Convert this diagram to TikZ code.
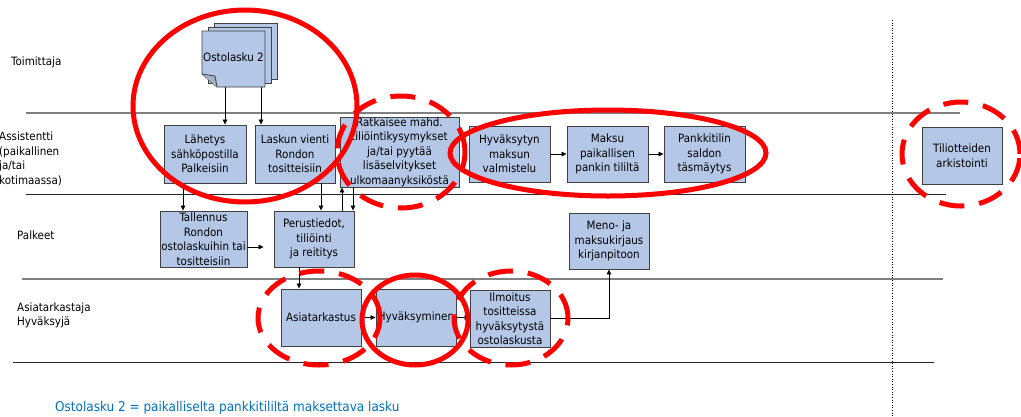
\documentclass[tikz,border=0pt]{standalone}
\usepackage{fontspec}
\setmainfont{DejaVu Sans Condensed}
\usetikzlibrary{arrows.meta,calc}
\definecolor{boxfill}{RGB}{180,199,231}
\definecolor{boxline}{RGB}{64,64,64}
\definecolor{noteblue}{RGB}{0,112,192}
\definecolor{ringred}{RGB}{255,0,0}
\begin{document}
\begin{tikzpicture}[x=1pt,y=-1pt,
  box/.style={draw=boxline, fill=boxfill, line width=0.9pt, inner sep=0pt, align=center,
    font=\fontsize{11.5}{14.5}\selectfont},
  arr/.style={-{Triangle[length=5pt,width=4.5pt]}, line width=0.7pt},
  lanelight/.style={line width=1.2pt, draw=gray},
  lanedark/.style={line width=1pt, draw=black!85},
  lbl/.style={anchor=west, align=left, font=\fontsize{11.5}{14.6}\selectfont, inner sep=0pt},
  ring/.style={draw=ringred, line width=5pt},
  dring/.style={ring, dash pattern=on 25pt off 15pt}]
\useasboundingbox (0,0) rectangle (1021,416);

% lane separators
\draw[lanelight] (26,113) -- (960,113);
\draw[lanedark] (26,194) -- (946,194);
\draw[lanelight] (22,279) -- (943,279);
\draw[lanedark] (13,362) -- (934,362);
\draw[dotted, line width=0.6pt] (892,20) -- (892,416);

% lane labels
\node[lbl] (l1) at (11,62) {Toimittaja};
\node[lbl] (l2) at (-1,159) {Assistentti\\(paikallinen\\ja/tai\\kotimaassa)};
\node[lbl] (l3) at (17,235) {Palkeet};
\node[lbl] (l4) at (17,315.5) {Asiatarkastaja\\Hyväksyjä};

% document stack
\foreach \dx/\dy in {12/-8, 6/-4}
  \draw[fill=boxfill, draw=boxline, line width=0.8pt] (202+\dx,31+\dy) rectangle (265+\dx,87+\dy);
\draw[fill=boxfill, draw=boxline, line width=0.8pt] (202,31) -- (265,31) -- (265,87) -- (217,87) -- (202,74) -- cycle;
\draw[fill=boxfill!70!gray, draw=boxline, line width=0.8pt] (202,74) -- (215,76) -- (217,87);
\node[inner sep=0pt, minimum width=63pt, minimum height=56pt, font=\fontsize{11.5}{14.5}\selectfont] (osto) at (233.5,59) {\raisebox{3pt}{Ostolasku 2}};

% boxes
\node[box, minimum width=82pt, minimum height=58pt] (lah) at (205,154) {Lähetys\\sähköpostilla\\Palkeisiin};
\node[box, minimum width=80pt, minimum height=58pt] (las) at (295,154) {Laskun vienti\\Rondon\\tositteisiin};
\node[box, minimum width=119pt, minimum height=70pt] (rat) at (399.5,152) {Ratkaisee mahd.\\tiliöintikysymykset\\ja/tai pyytää\\lisäselvitykset\\ulkomaanyksiköstä};
\node[box, minimum width=81pt, minimum height=56pt] (hyvv) at (509.5,154) {Hyväksytyn\\maksun\\valmistelu};
\node[box, minimum width=81pt, minimum height=56pt] (mak) at (607.5,154) {Maksu\\paikallisen\\pankin tililtä};
\node[box, minimum width=81pt, minimum height=56pt] (pan) at (704.5,154) {Pankkitilin\\saldon\\täsmäytys};
\node[box, minimum width=80pt, minimum height=57pt] (til) at (962,155.5) {Tiliotteiden\\arkistointi};
\node[box, minimum width=87pt, minimum height=56pt] (tal) at (203.5,239) {Tallennus\\Rondon\\ostolaskuihin tai\\tositteisiin};
\node[box, minimum width=80pt, minimum height=56pt] (per) at (314,239) {Perustiedot,\\tiliöinti\\ja reititys};
\node[box, minimum width=80pt, minimum height=57pt] (asi) at (321,317.5) {Asiatarkastus};
\node[box, minimum width=80pt, minimum height=57pt] (hyv) at (416,317.5) {Hyväksyminen};
\node[box, minimum width=80pt, minimum height=57pt] (ilm) at (510,318.5) {Ilmoitus\\tositteissa\\hyväksytystä\\ostolaskusta};
\node[box, minimum width=80pt, minimum height=56pt] (men) at (609,241) {Meno- ja\\maksukirjaus\\kirjanpitoon};

% connector start points
\coordinate (a1) at ($(osto.south)+(-8.5,0)$);
\coordinate (a2) at ($(osto.south)+(27.5,0)$);
\coordinate (a3) at ($(lah.south)+(-22,0)$);
\coordinate (a4) at ($(las.south)+(26,0)$);
\coordinate (a5) at ($(per.north)+(28,0)$);
\coordinate (a6) at ($(rat.south)+(-46.5,0)$);
\coordinate (a7) at ($(tal.east)+(0,8)$);
\coordinate (a8) at ($(per.south)+(-15,0)$);

% connectors
\draw[arr] (a1) -- (a1 |- lah.north);
\draw[arr] (a2) -- (a2 |- las.north);
\draw[arr] (a3) -- (a3 |- tal.north);
\draw[arr] (a4) -- (a4 |- per.north);
\draw[arr] (a5) -- (a5 |- rat.south);
\draw[arr] (a6) -- (a6 |- per.north);
\draw[arr, shorten >=10pt] (a7) -- (a7 -| per.west);
\draw[arr] (a8) -- (a8 |- asi.north);
\draw[arr] (asi.east) -- (hyv.west);
\draw[arr] (hyv.east) -- (hyv.east -| ilm.west);
\draw[arr] (ilm.east) -| (men.south);
\draw[arr] (hyvv.east) -- (mak.west);
\draw[arr] (mak.east) -- (pan.west);

% red highlight rings
\draw[ring] (245,106) ellipse [x radius=112pt, y radius=96pt];
\draw[dring] (401,152) ellipse [x radius=64pt, y radius=56pt];
\draw[ring] (608,153) ellipse [x radius=158pt, y radius=43pt];
\draw[dring] (961,154) ellipse [x radius=59pt, y radius=52pt];
\draw[dring] (319,318) ellipse [x radius=61pt, y radius=47pt];
\draw[dring] (511,318) ellipse [x radius=57pt, y radius=47pt];
\draw[ring] (415,320) ellipse [x radius=53pt, y radius=45pt];

% note
\node[anchor=base west, inner sep=0pt, text=noteblue, font=\fontsize{13.4}{15}\selectfont] (note) at (55,411.5) {Ostolasku 2 = paikalliselta pankkitililtä maksettava lasku};
\end{tikzpicture}
\end{document}
